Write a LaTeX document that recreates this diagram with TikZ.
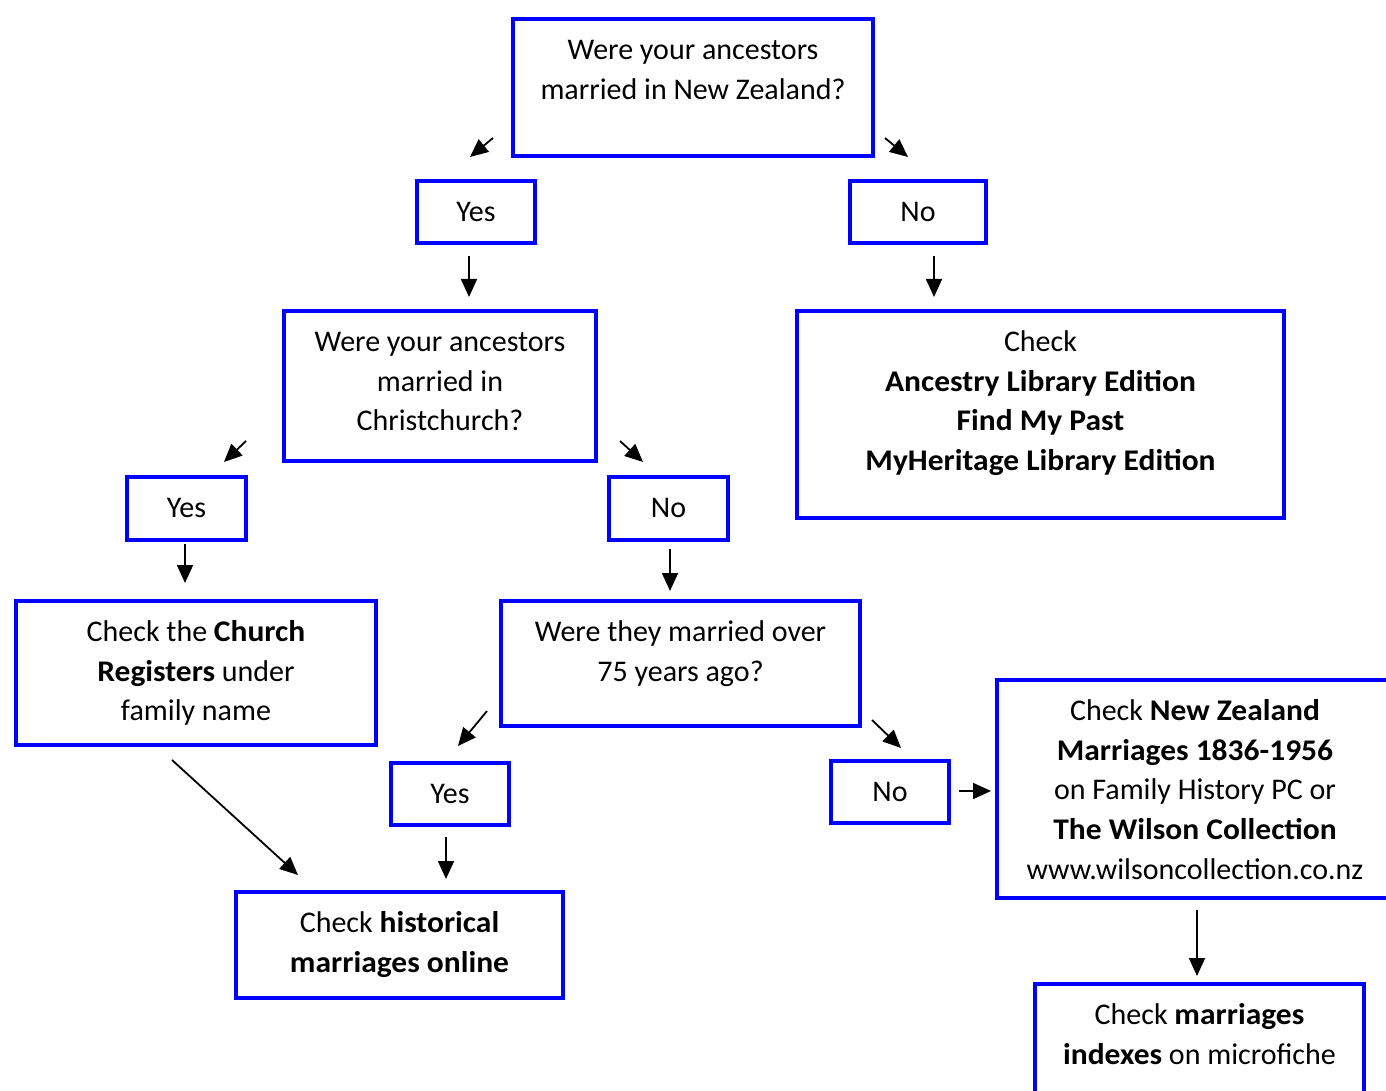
\documentclass[tikz,border=0pt]{standalone}
\usepackage{fontspec}
\setmainfont{Carlito}[BoldFeatures={FakeStretch=1.05}]
\usetikzlibrary{arrows.meta}

\newdimen\pxu \pxu=0.5pt
% text sits at the top of each box
\newcommand{\boxtext}[3]{\parbox[c][#2\pxu][t]{#1\pxu}{\centering\rule{0pt}{20.2pt}#3}}

\tikzset{
  qbox/.style={draw=blue, line width=2.4pt, inner sep=0pt, outer sep=0pt, anchor=north west,
    font=\fontsize{15}{19.85}\selectfont},
  arr/.style={line width=0.9pt, -{Triangle[length=9pt,width=8pt]}}
}

\begin{document}
\begin{tikzpicture}[x=0.5pt,y=-0.5pt]
    \useasboundingbox (0,0) rectangle (1386,1091);
    \clip (0,0) rectangle (1386,1091);

    \node[qbox] (nz) at (513,19) {\boxtext{360}{137}{Were your ancestors\\married in New Zealand?}};
    \node[qbox] (yesnz) at (417,181) {\boxtext{118}{62}{Yes}};
    \node[qbox] (nonz) at (850,181) {\boxtext{136}{62}{No}};
    \node[qbox] (chch) at (284,311) {\boxtext{312}{150}{Were your ancestors\\married in\\Christchurch?}};
    \node[qbox] (online) at (797,311) {\boxtext{487}{207}{Check\\\textbf{Ancestry Library Edition}\\\textbf{Find My Past}\\\textbf{MyHeritage Library Edition}}};
    \node[qbox] (yeschch) at (127,477) {\boxtext{119}{63}{Yes}};
    \node[qbox] (nochch) at (609,477) {\boxtext{119}{63}{No}};
    \node[qbox] (church) at (16,601) {\boxtext{360}{144}{Check the \textbf{Church}\\\textbf{Registers} under\\family name}};
    \node[qbox] (over75) at (501,601) {\boxtext{359}{125}{Were they married over\\75 years ago?}};
    \node[qbox] (yes75) at (391,763) {\boxtext{118}{62}{Yes}};
    \node[qbox] (no75) at (831,761) {\boxtext{118}{62}{No}};
    \node[qbox] (hist) at (236,892) {\boxtext{327}{106}{Check \textbf{historical}\\\textbf{marriages online}}};
    \node[qbox] (wilson) at (997,680) {\boxtext{396}{218}{Check \textbf{New Zealand}\\\textbf{Marriages 1836-1956}\\on Family History PC or\\\textbf{The Wilson Collection}\\www.wilsoncollection.co.nz}};
    \node[qbox] (fiche) at (1035,984) {\boxtext{329}{130}{Check \textbf{marriages}\\\textbf{indexes} on microfiche}};

    \draw[arr] ([shift={(-20,-18)}]nz.south west) -- ([shift={(-6,-24)}]yesnz.north);
    \draw[arr] ([shift={(12,-18)}]nz.south east) -- ([shift={(-10,-24)}]nonz.north);
    \draw[arr] ([shift={(-7,13)}]yesnz.south) -- ([shift={(29,-14)}]chch.north);
    \draw[arr] ([shift={(16,13)}]nonz.south) -- ([shift={(-106.5,-14)}]online.north);
    \draw[arr] ([shift={(-38,-20)}]chch.south west) -- ([shift={(37.5,-15)}]yeschch.north);
    \draw[arr] ([shift={(24,-20)}]chch.south east) -- ([shift={(-25.5,-15)}]nochch.north);
    \draw[arr] ([shift={(-1.5,4)}]yeschch.south) -- ([shift={(-11,-18)}]church.north);
    \draw[arr] ([shift={(1.5,9)}]nochch.south) -- ([shift={(-10.5,-10)}]over75.north);
    \draw[arr] ([shift={(-14,-15)}]over75.south west) -- ([shift={(8,-17)}]yes75.north);
    \draw[arr] ([shift={(12,-6)}]over75.south east) -- ([shift={(11,-13)}]no75.north);
    \draw[arr] ([shift={(-24,15)}]church.south) -- ([shift={(62,-17)}]hist.north west);
    \draw[arr] ([shift={(-4,12)}]yes75.south) -- ([shift={(46.5,-13)}]hist.north);
    \draw[arr] ([shift={(10,-1)}]no75.east) -- ([shift={(-6,2)}]wilson.west);
    \draw[arr] ([shift={(2,12)}]wilson.south) -- ([shift={(-2.5,-8)}]fiche.north);
\end{tikzpicture}
\end{document}
